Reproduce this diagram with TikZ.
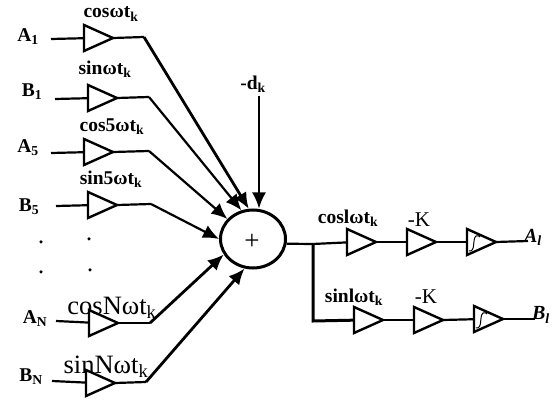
\documentclass[tikz,border=0pt]{standalone}
\usepackage{fontspec}
\setmainfont{Liberation Serif}
\usetikzlibrary{arrows.meta,shapes.geometric}
\tikzset{
	amp/.style={draw,line width=2.4pt,isosceles triangle,isosceles triangle stretches=true,minimum width=26pt,minimum height=29pt,inner sep=0,outer sep=0,anchor=lower side},
	wire/.style={line width=2.2pt},
	feed/.style={line width=2.8pt,-{Latex[length=16pt,width=14pt]}},
	lbl/.style={font=\fontsize{19.5}{20}\selectfont\bfseries,inner sep=0},
	big/.style={font=\fontsize{26.5}{27}\selectfont,inner sep=0},
	thin/.style={font=\fontsize{21}{21}\selectfont,inner sep=0},
	dotmark/.style={circle,fill,inner sep=0,minimum size=3.5pt}
}
\begin{document}
\begin{tikzpicture}[x=1pt,y=-1pt]
		\useasboundingbox (0,0) rectangle (558,401);
		% left amplifiers
		\node[amp] (a1) at (84,38) {};
		\node[amp] (b1) at (88,98) {};
		\node[amp] (a5) at (84,152) {};
		\node[amp] (b5) at (88,205) {};
		\node[amp] (aN) at (89,323) {};
		\node[amp] (bN) at (86,383) {};
		\node[draw,ellipse,line width=3pt,minimum width=65pt,minimum height=58pt,inner sep=0] (sum) at (253,239) {};
		\node[font=\fontsize{27}{27}\selectfont,inner sep=0] (plus) at (252,242) {+};
		% input labels
		\node[lbl] (A1) at (28,37) {A\textsubscript{1}};
		\node[lbl] (B1) at (32,92) {B\textsubscript{1}};
		\node[lbl] (A5) at (28,148) {A\textsubscript{5}};
		\node[lbl] (B5) at (29,207) {B\textsubscript{5}};
		\node[lbl] (AN) at (35,319) {A\textsubscript{N}};
		\node[lbl] (BN) at (31,377) {B\textsubscript{N}};
		\coordinate (a1in) at (51,39);
		\coordinate (b1in) at (55,99);
		\coordinate (a5in) at (51,153);
		\coordinate (b5in) at (56,206);
		\coordinate (aNin) at (56,321);
		\coordinate (bNin) at (52,381);
		\draw[wire] (a1in) -- (a1);
		\draw[wire] (b1in) -- (b1);
		\draw[wire] (a5in) -- (a5);
		\draw[wire] (b5in) -- (b5);
		\draw[wire] (aNin) -- (aN);
		\draw[wire] (bNin) -- (bN);
		% gain labels
		\node[lbl] (ca1) at (111,14) {cosωt\textsubscript{k}};
		\node[lbl] (cb1) at (105,69) {sinωt\textsubscript{k}};
		\node[lbl] (ca5) at (112,127) {cos5ωt\textsubscript{k}};
		\node[lbl] (cb5) at (111,179) {sin5ωt\textsubscript{k}};
		\node[big] (caN) at (112,308) {cosNωt\textsubscript{k}};
		\node[big] (cbN) at (106,367) {sinNωt\textsubscript{k}};
		% dots
		\node[dotmark] (d1) at (41,242) {};
		\node[dotmark] (d2) at (89,239) {};
		\node[dotmark] (d3) at (41,272) {};
		\node[dotmark] (d4) at (90,270) {};
		% summing lines
		\coordinate (ka1) at (144,37);
		\coordinate (kb1) at (149,97);
		\coordinate (ka5) at (149,151);
		\coordinate (kb5) at (151,204);
		\coordinate (kaN) at (150,323);
		\coordinate (kbN) at (146,382);
		\draw[wire] (a1.apex) -- (ka1);
		\draw[wire] (b1.apex) -- (kb1);
		\draw[wire] (a5.apex) -- (ka5);
		\draw[wire] (b5.apex) -- (kb5);
		\draw[wire] (aN.apex) -- (kaN);
		\draw[wire] (bN.apex) -- (kbN);
		\draw[feed] (ka1) -- (sum.98);
		\draw[feed,line width=2.2pt] (kb1) -- (sum.112);
		\draw[feed,line width=2.2pt] (ka5) -- (sum.142);
		\draw[feed,line width=2.2pt] (kb5) -- (sum.west);
		\draw[feed] (kaN) -- (sum.208);
		\draw[feed] (kbN) -- (sum.254);
		\node[lbl] (dk) at (253,84) {-d\textsubscript{k}};
		\coordinate (dtop) at (259,96);
		\draw[feed,line width=2.2pt] (dtop) -- (dtop|-sum.north);
		% output branch
		\node[amp] (ca) at (347,242) {};
		\node[amp] (ka) at (407,242) {};
		\node[amp] (ia) at (467,242) {};
		\node[amp] (cb) at (354,320) {};
		\node[amp] (kb) at (414,320) {};
		\node[amp] (ib) at (474,319) {};
		\coordinate (fork) at (313,244);
		\coordinate (low) at (313,321);
		\coordinate (outa) at (528,241);
		\coordinate (outb) at (535,319);
		\draw[wire] (sum.-8) -- (fork) -- (ca);
		\draw[line width=3pt] (fork) -- (low) -- (cb);
		\draw[wire] (ca.apex) -- (ka);
		\draw[wire] (ka.apex) -- (ia);
		\draw[wire] (ia.apex) -- (outa);
		\draw[wire] (cb.apex) -- (kb);
		\draw[wire] (kb.apex) -- (ib);
		\draw[wire] (ib.apex) -- (outb);
		% integrator signs
		\draw[line width=1pt] (469,251) .. controls (476,252) and (472,239) .. (476,236) .. controls (478,235) and (479,236) .. (480,237);
		\draw[line width=1pt] (476,328) .. controls (483,329) and (479,316) .. (483,313) .. controls (485,312) and (486,313) .. (487,314);
		\node[lbl] (cca) at (348,218) {coslωt\textsubscript{k}};
		\node[lbl] (ccb) at (354,297) {sinlωt\textsubscript{k}};
		\node[thin] (ga) at (419,220) {-K};
		\node[thin] (gb) at (426,297) {-K};
		\node[lbl,font=\fontsize{20}{20}\selectfont\bfseries\itshape] (Al) at (533,237) {A\textsubscript{l}};
		\node[lbl,font=\fontsize{20}{20}\selectfont\bfseries\itshape] (Bl) at (541,315) {B\textsubscript{l}};
\end{tikzpicture}
\end{document}
